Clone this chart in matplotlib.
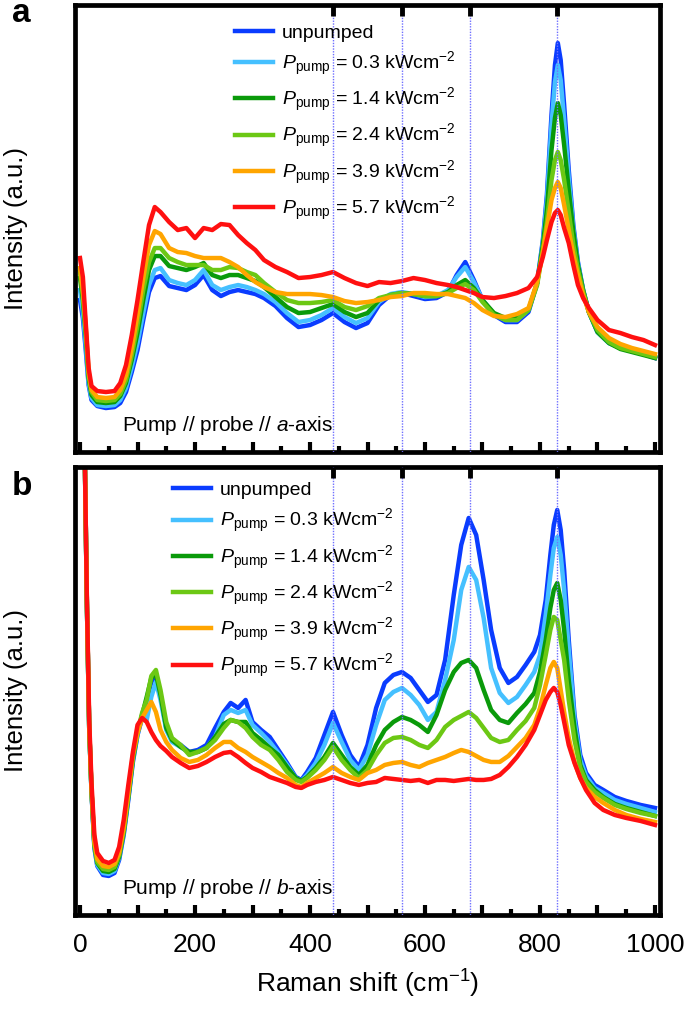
import matplotlib
matplotlib.use("Agg")
import matplotlib.pyplot as plt
from matplotlib.ticker import MultipleLocator, FuncFormatter

plt.rcParams['font.family'] = ['Liberation Sans', 'DejaVu Sans']
plt.rcParams['mathtext.fontset'] = 'custom'
plt.rcParams['mathtext.rm'] = 'Liberation Sans'
plt.rcParams['mathtext.it'] = 'Liberation Sans:italic'
plt.rcParams['mathtext.bf'] = 'Liberation Sans:bold'

# ---------------- data ----------------
labels = ['unpumped',
          r'$P_{\rm pump}$ = 0.3 kWcm$^{-2}$',
          r'$P_{\rm pump}$ = 1.4 kWcm$^{-2}$',
          r'$P_{\rm pump}$ = 2.4 kWcm$^{-2}$',
          r'$P_{\rm pump}$ = 3.9 kWcm$^{-2}$',
          r'$P_{\rm pump}$ = 5.7 kWcm$^{-2}$']
colors = ['#0a3cff', '#45c0ff', '#0a9a0a', '#6cc814', '#ffa500', '#ff1010']
mode_lines = [440, 560, 678, 830]

shift_a = [0, 5, 10, 15, 20, 30, 45, 60, 70, 80, 90, 100, 110, 120, 130, 140, 155, 170, 185, 200,
           215, 230, 245, 260, 275, 290, 305, 320, 340, 360, 380, 400, 420, 440, 460, 480, 500, 520,
           540, 560, 580, 600, 620, 640, 655, 670, 685, 700, 720, 740, 760, 780, 795, 805, 812, 820,
           826, 831, 836, 842, 850, 858, 866, 875, 885, 900, 920, 940, 960, 980, 1000]

a_unpumped = [152, 134, 102, 67, 52, 46, 44, 45, 49, 60, 80, 102, 132, 160, 174, 176, 166, 164, 162, 167,
              177, 162, 156, 160, 162, 160, 158, 154, 146, 134, 125, 127, 132, 139, 130, 124, 129, 147,
              157, 159, 156, 153, 154, 160, 177, 190, 172, 152, 137, 130, 130, 140, 169, 212, 257, 337,
              387, 409, 392, 347, 282, 227, 190, 162, 140, 120, 109, 104, 101, 98, 94]
a_p03 = [162, 140, 107, 69, 54, 47, 46, 47, 52, 64, 85, 109, 139, 167, 182, 184, 172, 169, 167, 172,
         182, 167, 162, 165, 167, 165, 162, 158, 150, 139, 130, 132, 137, 144, 135, 129, 134, 150,
         158, 160, 158, 155, 156, 162, 175, 185, 170, 152, 138, 132, 132, 142, 169, 210, 252, 327,
         370, 387, 372, 332, 274, 224, 189, 162, 140, 120, 109, 104, 101, 98, 95]
a_p14 = [174, 152, 117, 74, 57, 50, 49, 50, 56, 69, 92, 119, 152, 182, 196, 196, 186, 184, 182, 185,
         189, 177, 174, 177, 177, 174, 171, 165, 155, 145, 139, 140, 144, 148, 140, 135, 139, 152,
         157, 159, 158, 156, 156, 160, 167, 172, 164, 152, 139, 134, 134, 142, 169, 207, 242, 302,
         334, 349, 337, 307, 262, 220, 187, 162, 140, 120, 109, 103, 100, 97, 94]
a_p24 = [180, 157, 122, 77, 60, 52, 51, 52, 58, 72, 97, 127, 162, 190, 204, 204, 194, 190, 187, 187,
         187, 182, 182, 185, 184, 180, 177, 169, 160, 152, 149, 149, 150, 152, 145, 142, 146, 154,
         157, 159, 158, 156, 156, 159, 164, 168, 162, 150, 137, 132, 132, 142, 167, 202, 230, 272,
         292, 300, 292, 272, 240, 207, 182, 160, 140, 122, 110, 104, 101, 98, 95]
a_p39 = [184, 162, 125, 80, 62, 55, 54, 55, 62, 77, 104, 137, 174, 207, 221, 218, 204, 200, 199, 196,
         194, 194, 194, 190, 185, 177, 170, 165, 160, 158, 158, 158, 157, 155, 151, 149, 150, 152,
         155, 156, 159, 159, 158, 158, 156, 154, 149, 142, 136, 135, 138, 144, 170, 200, 224, 252,
         264, 270, 264, 247, 222, 197, 177, 157, 140, 125, 114, 108, 104, 101, 98]
a_p57 = [194, 175, 129, 84, 66, 61, 60, 61, 69, 87, 117, 152, 190, 227, 245, 240, 230, 222, 224, 214,
         224, 222, 228, 227, 217, 209, 202, 192, 185, 180, 174, 175, 177, 180, 174, 169, 166, 170,
         169, 171, 174, 172, 169, 167, 165, 162, 159, 155, 154, 156, 159, 164, 175, 195, 212, 230,
         239, 242, 237, 224, 209, 187, 167, 154, 144, 132, 122, 119, 115, 112, 107]

shift_b = [0, 4, 8, 12, 16, 20, 25, 30, 40, 50, 60, 68, 76, 84, 92, 100, 108, 116, 124, 132, 140, 150,
           160, 175, 190, 205, 220, 235, 250, 262, 275, 288, 300, 315, 330, 345, 360, 375, 385, 395,
           410, 425, 440, 455, 470, 485, 500, 515, 530, 545, 560, 575, 590, 605, 620, 635, 650, 663,
           676, 689, 702, 715, 730, 745, 760, 775, 790, 800, 810, 818, 824, 830, 836, 842, 850, 860,
           870, 880, 895, 910, 930, 950, 975, 1000]

b_unpumped = [800, 636, 472, 310, 187, 123, 67, 49, 40, 39, 42, 55, 80, 115, 153, 180, 197, 215, 233, 239,
              220, 187, 175, 170, 163, 165, 170, 187, 203, 212, 207, 215, 193, 185, 178, 165, 152, 138,
              135, 143, 157, 180, 203, 180, 160, 148, 170, 207, 232, 240, 243, 237, 225, 213, 220, 255,
              320, 370, 397, 380, 335, 285, 247, 232, 238, 250, 263, 280, 315, 360, 390, 405, 385, 345,
              275, 200, 160, 142, 130, 125, 118, 114, 110, 107]
b_p03 = [800, 636, 472, 310, 187, 123, 68, 50, 42, 41, 44, 57, 82, 117, 155, 180, 200, 195, 218, 233,
         215, 185, 173, 168, 162, 163, 167, 178, 200, 205, 202, 205, 190, 182, 173, 162, 150, 137,
         134, 140, 152, 170, 192, 173, 155, 145, 160, 190, 215, 223, 227, 220, 210, 195, 203, 235,
         275, 325, 348, 335, 297, 247, 222, 212, 218, 230, 243, 260, 300, 340, 367, 378, 360, 325,
         265, 195, 155, 139, 127, 122, 115, 111, 107, 103]
b_p14 = [800, 636, 472, 310, 187, 124, 70, 52, 44, 43, 46, 58, 83, 118, 156, 182, 200, 218, 237, 241,
         220, 187, 175, 168, 163, 163, 167, 178, 191, 195, 193, 193, 182, 175, 167, 160, 148, 137,
         134, 138, 147, 158, 172, 160, 148, 140, 150, 170, 185, 193, 198, 195, 190, 183, 200, 225,
         243, 252, 255, 247, 225, 205, 195, 192, 202, 211, 222, 243, 275, 307, 325, 332, 315, 285,
         235, 187, 150, 135, 125, 118, 111, 107, 103, 99]
b_p24 = [800, 636, 472, 310, 187, 124, 71, 53, 46, 45, 48, 60, 85, 120, 158, 183, 202, 215, 239, 245,
         225, 193, 177, 170, 160, 163, 167, 175, 187, 195, 193, 187, 178, 170, 165, 155, 143, 135,
         133, 137, 145, 155, 168, 155, 145, 137, 145, 160, 172, 177, 178, 175, 170, 167, 175, 188,
         195, 199, 203, 197, 187, 177, 173, 175, 185, 194, 207, 230, 260, 285, 298, 295, 275, 255,
         215, 175, 147, 133, 123, 117, 110, 106, 102, 99]
b_p39 = [800, 636, 472, 312, 190, 126, 73, 56, 49, 48, 51, 62, 87, 122, 160, 182, 197, 205, 213, 203,
         185, 173, 165, 157, 153, 155, 160, 167, 173, 173, 167, 163, 158, 153, 148, 142, 137, 130,
         128, 132, 137, 142, 148, 142, 138, 135, 142, 145, 150, 152, 153, 150, 148, 152, 155, 158,
         162, 165, 163, 159, 155, 153, 153, 159, 168, 177, 190, 207, 230, 247, 253, 247, 225, 203,
         177, 153, 137, 127, 118, 112, 105, 100, 96, 93]
b_p57 = [800, 636, 472, 315, 195, 132, 80, 62, 54, 52, 55, 68, 95, 130, 163, 190, 197, 193, 183, 175,
         169, 164, 158, 152, 147, 149, 153, 158, 162, 163, 158, 152, 147, 143, 138, 135, 132, 128,
         127, 130, 133, 135, 138, 135, 132, 130, 132, 133, 137, 136, 135, 134, 135, 132, 135, 135,
         134, 135, 136, 135, 135, 136, 140, 148, 158, 170, 185, 200, 215, 223, 227, 223, 210, 193,
         170, 152, 137, 125, 112, 105, 100, 97, 94, 90]

series_a = [a_unpumped, a_p03, a_p14, a_p24, a_p39, a_p57]
series_b = [b_unpumped, b_p03, b_p14, b_p24, b_p39, b_p57]

# ---------------- figure ----------------
fig = plt.figure(figsize=(6.85, 10.09), dpi=100)
ax_a = fig.add_axes([0.1095, 0.552, 0.854, 0.443])
ax_b = fig.add_axes([0.1095, 0.0932, 0.854, 0.444])
XLIM = (-8.7, 1008.7)

def style(ax, shift, series, ylim, legend_anchor, note, letter, letter_y, show_labels):
    for s, c, lab in zip(series, colors, labels):
        ax.plot(shift, s, color=c, lw=3.2, label=lab, solid_joinstyle='round')
    for m in mode_lines:
        ax.axvline(m, color='#6f6fff', lw=1.0, ls=(0, (1, 1)), zorder=5)
    ax.set_xlim(*XLIM)
    ax.set_ylim(*ylim)
    ax.set_yticks([])
    for sp in ax.spines.values():
        sp.set_linewidth(3.4)
    ax.xaxis.set_major_locator(MultipleLocator(100))
    ax.xaxis.set_minor_locator(MultipleLocator(50))
    ax.tick_params(axis='x', which='major', direction='in', length=7, width=3, top=False,
                   labelsize=19, pad=13)
    ax.tick_params(axis='x', which='minor', direction='in', length=4.5, width=3, top=False)
    if show_labels:
        ax.xaxis.set_major_formatter(FuncFormatter(
            lambda v, p: '%d' % v if int(round(v)) % 200 == 0 else ''))
    else:
        ax.xaxis.set_major_formatter(FuncFormatter(lambda v, p: ''))
    top = ax.twiny()
    top.set_xlim(*XLIM)
    top.set_xticks(mode_lines)
    top.tick_params(axis='x', direction='in', length=8, width=3.5, labeltop=False,
                    color='black')
    for sp in top.spines.values():
        sp.set_visible(False)
    ax.set_ylabel('Intensity (a.u.)', fontsize=18.5)
    ax.yaxis.set_label_coords(-0.08, 0.5)
    leg = ax.legend(loc='upper left', bbox_to_anchor=legend_anchor, frameon=False, fontsize=14,
                    handlelength=1.95, handletextpad=0.45, labelspacing=0.42, borderaxespad=0)
    for l in leg.get_lines():
        l.set_linewidth(3.2)
    ax.text(0.081, 0.06, note, transform=ax.transAxes, fontsize=15, ha='left', va='center')
    ax.text(-0.091, letter_y, letter, transform=ax.transAxes, fontsize=24, fontweight='bold',
            ha='center', va='baseline')

style(ax_a, shift_a, series_a, (0, 447), (0.26, 0.975),
      r'Pump // probe // $\mathit{a}$-axis', 'a', 0.962, False)
style(ax_b, shift_b, series_b, (0, 448), (0.155, 0.985),
      r'Pump // probe // $\mathit{b}$-axis', 'b', 0.9375, True)
ax_b.set_xlabel(r'Raman shift (cm$^{-1}$)', fontsize=19, labelpad=8)

fig.savefig('out.png', dpi=100)
